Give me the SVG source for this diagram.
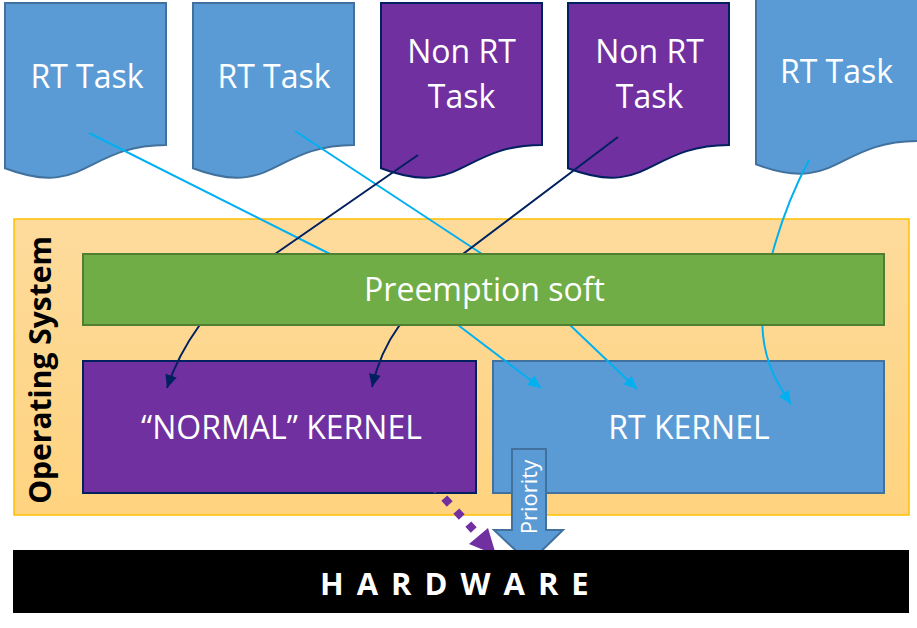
<svg xmlns="http://www.w3.org/2000/svg" width="917" height="628" viewBox="0 0 917 628">
<style>
.t{font-family:"Open Sans","Noto Sans","DejaVu Sans",sans-serif;fill:#fff;text-anchor:middle}
.rt{fill:#5B9BD5;stroke:#41719C;stroke-width:2}
.nrt{fill:#7030A0;stroke:#002060;stroke-width:2}
.cb{fill:none;stroke:#00B0F0;stroke-width:2}
.cn{fill:none;stroke:#002060;stroke-width:2}
</style>
<defs>
<linearGradient id="osg" x1="0" y1="0" x2="0" y2="1">
<stop offset="0" stop-color="#FDDB9C"/>
<stop offset="1" stop-color="#FFD37F"/>
</linearGradient>
<marker id="ab" markerUnits="userSpaceOnUse" markerWidth="14" markerHeight="12" refX="13" refY="6" orient="auto">
<path d="M0,0 L13,6 L0,12 z" fill="#00B0F0"/>
</marker>
<marker id="an" markerUnits="userSpaceOnUse" markerWidth="14" markerHeight="12" refX="13" refY="6" orient="auto">
<path d="M0,0 L13,6 L0,12 z" fill="#002060"/>
</marker>
</defs>
<rect width="917" height="628" fill="#fff"/>

<g id="os">
<rect x="14" y="219" width="895" height="296" fill="url(#osg)" stroke="#FFC000" stroke-width="1.5"/>
<text class="t" transform="translate(51,370) rotate(-90)" style="fill:#000;font-weight:bold;font-size:30px">Operating System</text>
</g>

<g id="task1">
<path class="rt" d="M5,3 H166 V145 C85.5,145 85.5,199 5,168.3 Z"/>
<text class="t" x="87" y="88" font-size="32">RT Task</text>
</g>
<g id="task2">
<path class="rt" d="M193,3 H354 V145 C273.5,145 273.5,199 193,168.3 Z"/>
<text class="t" x="274" y="88" font-size="32">RT Task</text>
</g>
<g id="task3">
<path class="nrt" d="M381,3 H542 V145 C461.5,145 461.5,199 381,168.3 Z"/>
<text class="t" x="461.5" y="63" font-size="32">Non RT</text>
<text class="t" x="461.5" y="108" font-size="32">Task</text>
</g>
<g id="task4">
<path class="nrt" d="M568,3 H729 V145 C648.5,145 648.5,199 568,168.3 Z"/>
<text class="t" x="649.5" y="63" font-size="32">Non RT</text>
<text class="t" x="649.5" y="108" font-size="32">Task</text>
</g>
<g id="task5">
<path class="rt" d="M756,-1 H918 V141 C837,141 837,195 756,164.3 Z"/>
<text class="t" x="836.5" y="83" font-size="32">RT Task</text>
</g>

<g id="normal-kernel">
<rect class="nrt" x="83" y="361" width="393" height="132"/>
<text class="t" x="281.5" y="439" font-size="32">“NORMAL” KERNEL</text>
</g>
<g id="rt-kernel">
<rect class="rt" x="493" y="361" width="391" height="132"/>
<text class="t" x="689" y="439" font-size="32">RT KERNEL</text>
</g>

<g id="connectors">
<path class="cb" d="M89,133 L330,254 L458,325 L541,388" marker-end="url(#ab)"/>
<path class="cb" d="M295,131 L482,254 L570,325 L637,389" marker-end="url(#ab)"/>
<path class="cb" d="M809,160 C785,205 758,280 763,335 C766,365 778,385 791,404" marker-end="url(#ab)"/>
<path class="cn" d="M418,155 L275,254 Q215,300 199,326 Q178,355 167,388" marker-end="url(#an)"/>
<path class="cn" d="M618,137 L463,254 L399,326 Q380,352 372,387" marker-end="url(#an)"/>
</g>

<g id="preemption">
<rect x="83" y="254" width="801" height="71" fill="#70AD47" stroke="#507E32" stroke-width="2"/>
<text class="t" x="484.5" y="301" font-size="32">Preemption soft</text>
</g>

<g id="priority">
<path d="M512,449 H546 V530 H563 L529,563 L494,530 H512 Z" fill="#5B9BD5" stroke="#41719C" stroke-width="2"/>
<text class="t" transform="translate(537,497) rotate(-90)" font-size="22">Priority</text>
</g>

<g id="dotted-arrow">
<line x1="432.3" y1="485.1" x2="474" y2="530.3" stroke="#7030A0" stroke-width="8" stroke-dasharray="8 9.7"/>
<polygon points="469,544 488,528 496,555" fill="#7030A0"/>
</g>

<g id="hardware">
<rect x="13" y="550" width="896" height="63" fill="#000"/>
<text class="t" x="320" y="595" style="text-anchor:start;font-weight:bold;font-size:31px;letter-spacing:13px">HARDWARE</text>
</g>
</svg>
